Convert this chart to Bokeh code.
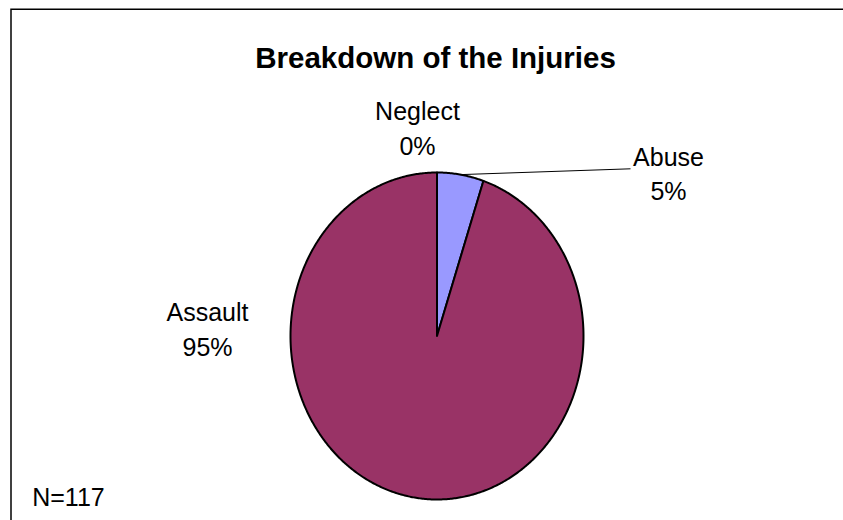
import numpy as np
from bokeh.plotting import figure
from bokeh.models import Range1d
from bokeh.core.properties import value
from bokeh.embed import file_html
from bokeh.resources import INLINE

# ---- data ----
categories = ["Abuse", "Assault", "Neglect"]
counts = [6, 111, 0]
colors = ["#9999FF", "#993366", "#FFFFCC"]
title_text = "Breakdown of the Injuries"

total = sum(counts)
pcts = [f"{round(c / total * 100)}%" for c in counts]

# ---- layout (page pixels) ----
W, H = 843, 520
OX, OY = 0, 0                 # figure origin on the page
CX, CY = 436.5, 335.5         # pie centre on the page
RX, RY = 146.5, 163.5         # pie radii (chart is stretched vertically)


def dx(px):
    return (px - CX) / RX


def dy(py):
    return (CY - py) / RY


p = figure(width=W, height=H, output_backend="svg", toolbar_location=None,
           x_range=Range1d(dx(OX), dx(OX + W)), y_range=Range1d(dy(OY + H), dy(OY)),
           x_axis_type=None, y_axis_type=None, min_border=0,
           outline_line_color=None, background_fill_color="white",
           border_fill_color="white")
p.grid.visible = False

# ---- chart frame (top and left edges visible) ----
p.line([dx(10.5), dx(10.5), dx(W + 5)], [dy(H + 5), dy(8.8), dy(8.8)],
       line_color="black", line_width=1.5, line_join="miter")

# ---- pie slices (clockwise from 12 o'clock) ----
xs_list, ys_list, fills = [], [], []
mids = {}
start = 0.0
for cat, c, col in zip(categories, counts, colors):
    frac = c / total
    mids[cat] = 2 * np.pi * (start + frac / 2)
    if c > 0:
        th = 2 * np.pi * np.linspace(start, start + frac, max(int(frac * 720), 4))
        xs_list.append([0.0] + list(np.sin(th)))
        ys_list.append([0.0] + list(np.cos(th)))
        fills.append(col)
    start += frac

p.patches(xs_list, ys_list, fill_color=fills, line_color="black", line_width=2,
          line_join="round")

# ---- leader line for Abuse ----
a = mids["Abuse"]
p.line([dx(630), float(np.sin(a))], [dy(168.3), float(np.cos(a))],
       line_color="black", line_width=1)

# ---- labels ----
label_pos = {"Neglect": (417, 110, 145), "Abuse": (668, 156, 190),
             "Assault": (207, 311.7, 346)}
lx, ly, lt = [], [], []
for cat, pc in zip(categories, pcts):
    x, y1, y2 = label_pos[cat]
    lx += [dx(x), dx(x)]
    ly += [dy(y1), dy(y2)]
    lt += [cat, pc]

font = value("Liberation Sans")
p.text(lx, ly, text=lt, text_font=font, text_font_size="25px",
       text_align="center", text_baseline="alphabetic", text_color="black")

p.text([dx(435)], [dy(56.7)], text=[title_text], text_font=font,
       text_font_size="29.5px", text_font_style="bold", text_align="center",
       text_baseline="alphabetic", text_color="black")

p.text([dx(31.7)], [dy(496)], text=[f"N={total}"], text_font=font,
       text_font_size="25px", text_align="left", text_baseline="alphabetic",
       text_color="black")

open("out.html", "w").write(file_html(p, INLINE))
